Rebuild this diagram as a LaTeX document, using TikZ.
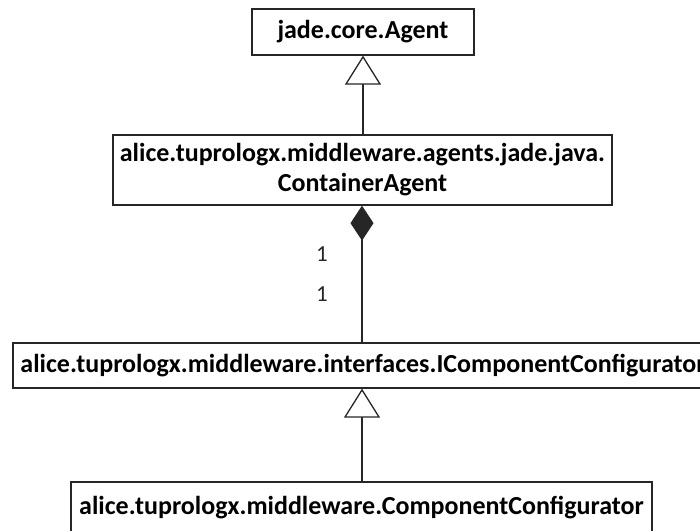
\documentclass[tikz,border=0pt]{standalone}
\usepackage{fontspec}
\setmainfont{Carlito}
\usetikzlibrary{arrows.meta,shapes.geometric}
\begin{document}
\begin{tikzpicture}[x=1pt,y=-1pt,
  cls/.style={draw=black!85,line width=1.3pt,fill=white,font=\bfseries\fontsize{26}{30}\selectfont,inner sep=0pt,align=center},
  conn/.style={draw=black!85,line width=1.3pt},
  gen/.style={conn,-{Triangle[open,width=36pt,length=29pt,fill=white]}},
  comp/.style={conn,-{Diamond[width=23pt,length=35pt]}},
  mult/.style={font=\fontsize{23}{26}\selectfont,inner sep=0pt,text=black!85}]
\useasboundingbox (0,0) rectangle (700,530);
\clip (0,0) rectangle (700,530);
\fill[white] (0,0) rectangle (700,530);
\node[cls,minimum width=222pt,minimum height=46pt] (agent) at (363,32) {jade.core.Agent};
\node[cls,minimum width=499pt,minimum height=70pt] (container) at (362.5,170) {alice.tuprologx.middleware.agents.jade.java.\\ContainerAgent};
\node[cls,minimum width=700pt,minimum height=45pt] (iconf) at (363,365.5) {alice.tuprologx.middleware.interfaces.IComponentConfigurator};
\node[cls,minimum width=581pt,minimum height=52pt] (conf) at (361.5,508) {alice.tuprologx.middleware.ComponentConfigurator};
\draw[gen] (container.north -| agent.south) -- (agent.south);
\draw[comp] (iconf.north -| 362,0) -- (container.south -| 362,0);
\draw[gen] (conf.north -| 362,0) -- (iconf.south -| 362,0);
\node[mult] (m1) at (322,254) {1};
\node[mult] (m2) at (322,294) {1};
\end{tikzpicture}
\end{document}
